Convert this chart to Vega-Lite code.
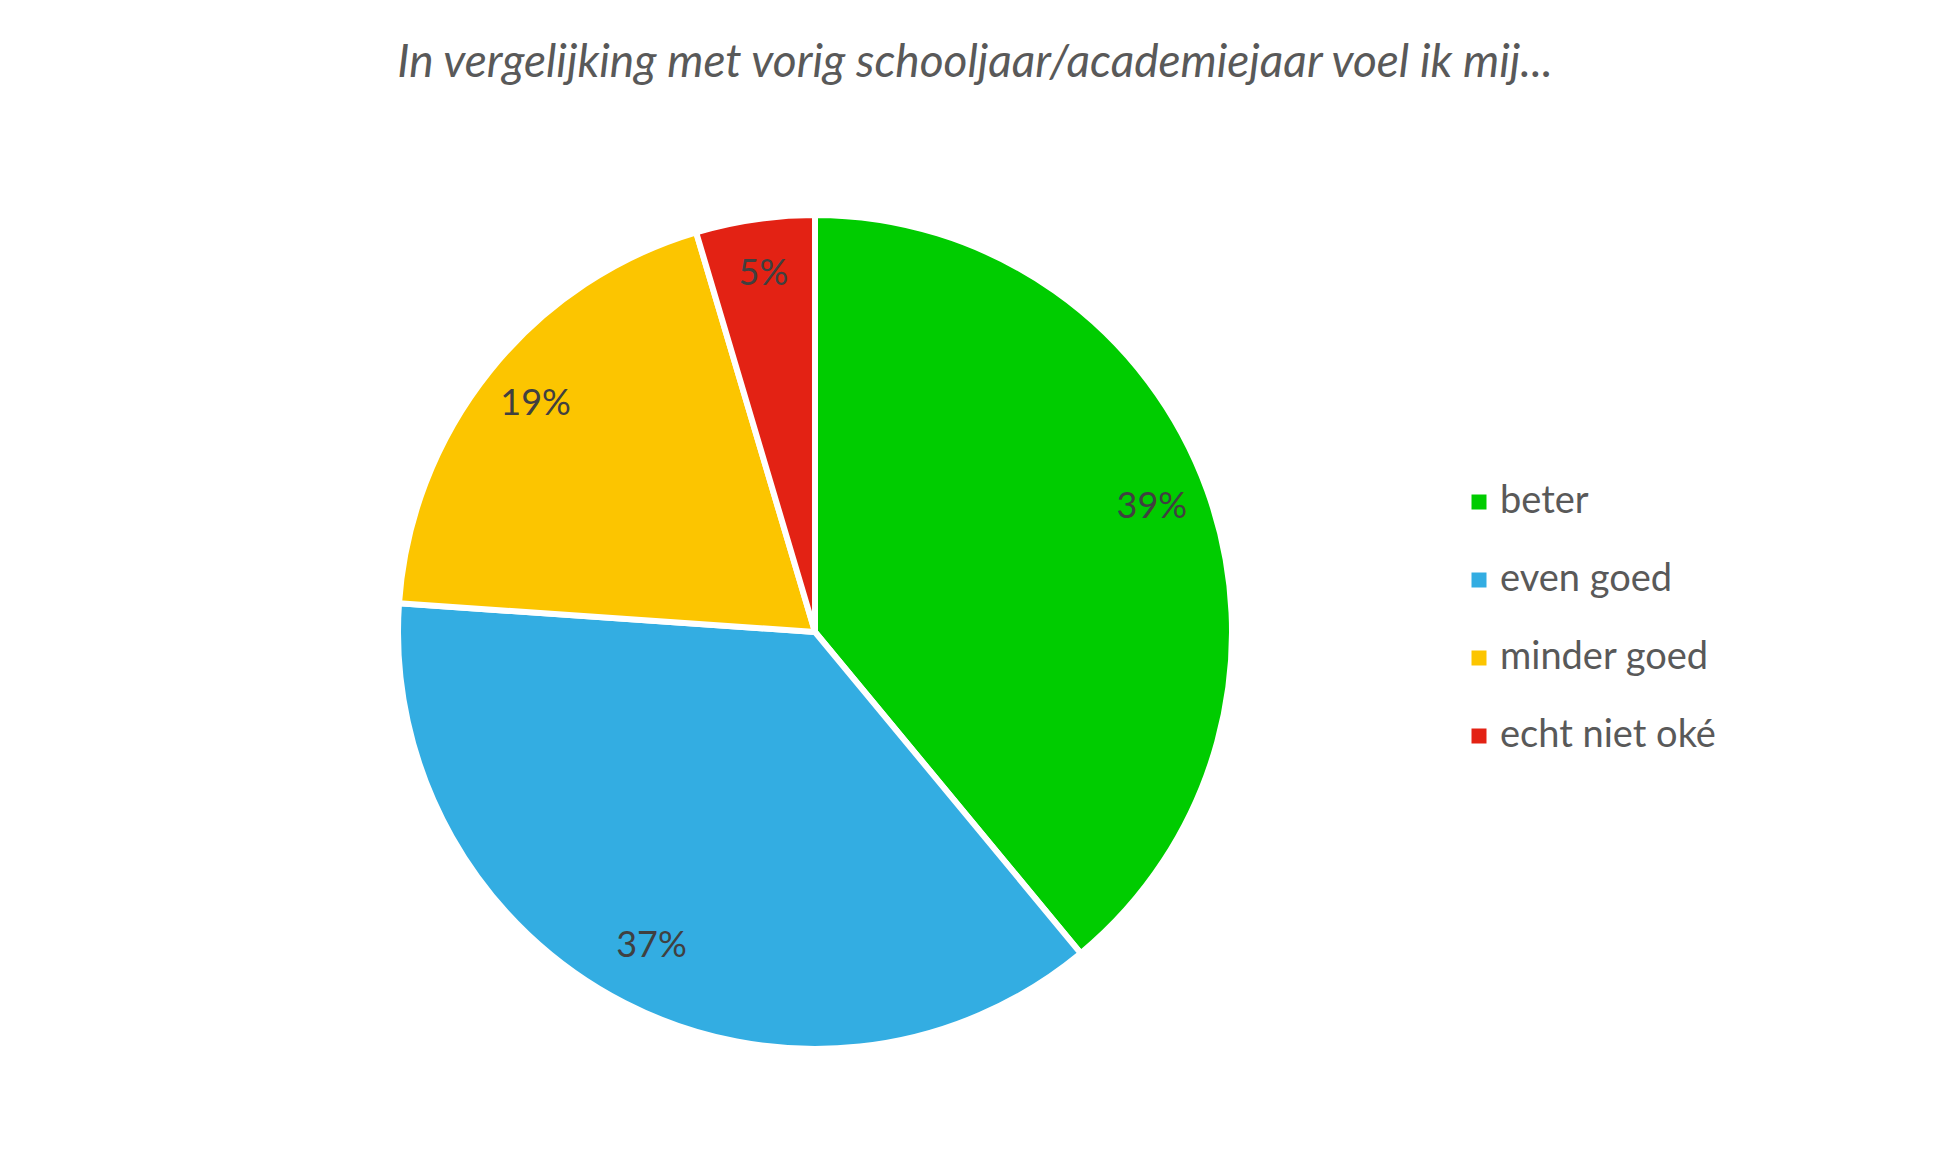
{
  "$schema": "https://vega.github.io/schema/vega-lite/v6.json",
  "width": 1630,
  "height": 1064,
  "autosize": {"type": "none"},
  "padding": {"left": 0, "top": 100, "right": 319, "bottom": 3},
  "background": "white",
  "config": {"view": {"stroke": null}, "font": "Lato"},
  "title": {
    "text": "In vergelijking met vorig schooljaar/academiejaar voel ik mij...",
    "font": "Lato",
    "fontStyle": "italic",
    "fontWeight": "normal",
    "fontSize": 46,
    "color": "#595959",
    "anchor": "middle",
    "frame": "group",
    "baseline": "alphabetic",
    "offset": -23,
    "dx": 160
  },
  "data": {
    "values": [
      {"antwoord": "beter", "aandeel": 0.390},
      {"antwoord": "even goed", "aandeel": 0.371},
      {"antwoord": "minder goed", "aandeel": 0.193},
      {"antwoord": "echt niet oké", "aandeel": 0.046}
    ]
  },
  "transform": [
    {"calculate": "indexof(['beter', 'even goed', 'minder goed', 'echt niet oké'], datum.antwoord)", "as": "volgorde"}
  ],
  "encoding": {
    "theta": {"field": "aandeel", "type": "quantitative", "stack": true},
    "order": {"field": "volgorde", "type": "quantitative"}
  },
  "layer": [
    {
      "mark": {"type": "arc", "outerRadius": 417, "stroke": "white", "strokeWidth": 6},
      "encoding": {
        "color": {
          "field": "antwoord",
          "type": "nominal",
          "scale": {
            "domain": ["beter", "even goed", "minder goed", "echt niet oké"],
            "range": ["#00CC00", "#33ADE2", "#FCC500", "#E32214"]
          },
          "legend": {
            "orient": "none",
            "legendX": 1460,
            "legendY": 383,
            "title": null,
            "symbolType": "square",
            "symbolSize": 225,
            "symbolStrokeWidth": 0,
            "labelFont": "Lato",
            "labelFontSize": 38,
            "labelLimit": 500,
            "labelColor": "#595959",
            "labelOffset": 2,
            "rowPadding": 40
          }
        }
      }
    },
    {
      "mark": {"type": "text", "radius": 358, "fontSize": 36, "font": "Lato", "align": "center", "baseline": "middle", "dy": -4},
      "encoding": {
        "text": {"field": "aandeel", "type": "quantitative", "format": ".0%"},
        "color": {"value": "#404040"}
      }
    }
  ]
}
